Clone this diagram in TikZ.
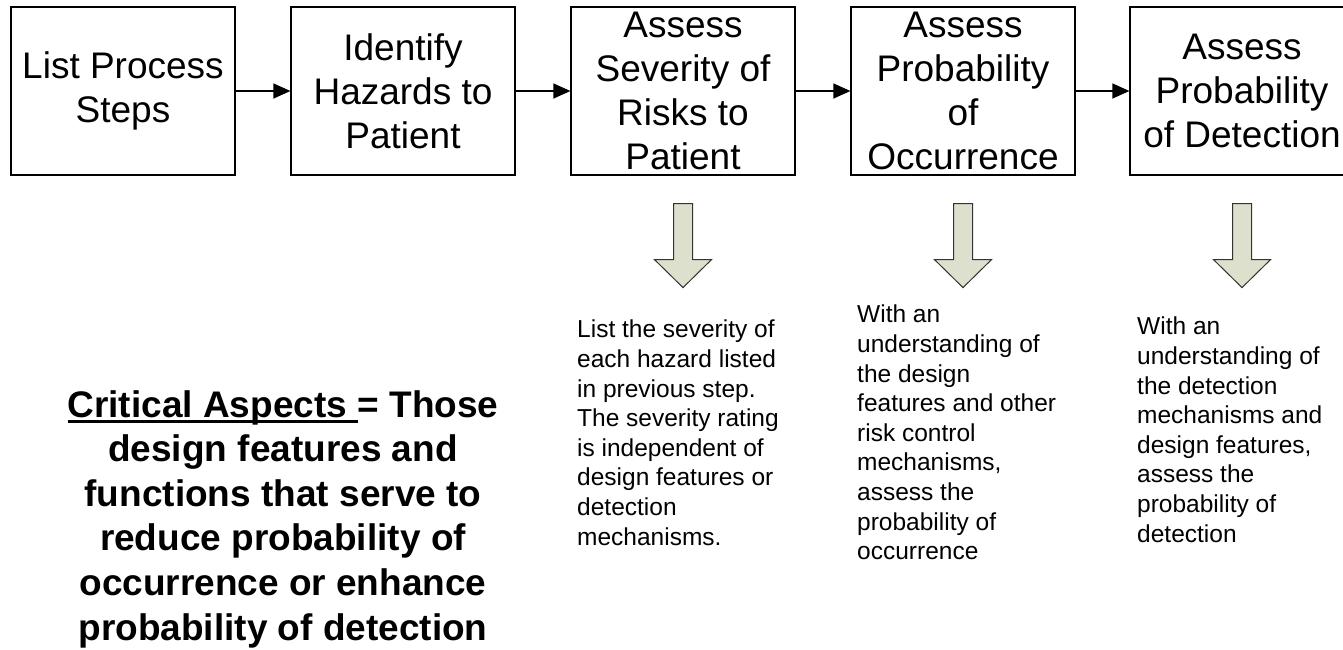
\documentclass[tikz,border=0pt]{standalone}
\usepackage{fontspec}
\setmainfont{Liberation Sans}
\usetikzlibrary{arrows.meta}

\definecolor{arrowfill}{RGB}{221,224,204}
% underline with a rule of chosen depth and thickness
\newcommand\ulword[1]{\setbox0\hbox{#1}\rlap{\rule[-5.5pt]{\wd0}{2.8pt}}\box0}

\tikzset{
  downarr/.pic={
    \draw[draw=black!80,line width=1pt,fill=arrowfill,line join=miter]
      (-9.5,0) -- (9.5,0) -- (9.5,56) -- (28.5,56) -- (0,84)
      -- (-28.5,56) -- (-9.5,56) -- cycle;
  }
}

\begin{document}
\begin{tikzpicture}[x=1pt,y=-1pt,
  stepbox/.style={draw=black,line width=1.2pt,minimum width=224pt,
    minimum height=168pt,inner sep=0pt,align=center,
    font=\fontsize{37}{44}\selectfont},
  flow/.style={line width=1.2pt,-{Triangle[length=17pt,width=15pt]}},
  note/.style={anchor=north west,inner sep=0pt,align=left,
    font=\fontsize{24.5}{29.6}\selectfont},
  summary/.style={anchor=north,inner sep=0pt,align=center,
    font=\bfseries\fontsize{37}{44.6}\selectfont}]

\useasboundingbox (0,0) rectangle (1343,650);
\clip (0,0) rectangle (1343,650);
\fill[white] (0,0) rectangle (1343,650);

% process steps
\node[stepbox] (b1) at (123,91) {List Process\\Steps};
\node[stepbox] (b2) at (403,91) {Identify\\Hazards to\\Patient};
\node[stepbox] (b3) at (683,91) {Assess\\Severity of\\Risks to\\Patient};
\node[stepbox] (b4) at (963,91) {Assess\\Probability\\of\\Occurrence};
\node[stepbox] (b5) at (1242,91) {Assess\\Probability\\of Detection};

\draw[flow] (b1) -- (b2);
\draw[flow] (b2) -- (b3);
\draw[flow] (b3) -- (b4);
\draw[flow] (b4) -- (b5);

% block arrows under the assessment steps
\pic at ([yshift=-28pt]b3.south) {downarr};
\pic at ([yshift=-28pt]b4.south) {downarr};
\pic at ([yshift=-28pt]b5.south) {downarr};

% explanations
\node[note] (n3) at (577,320) {List the severity of\\each hazard listed\\in previous step.\\The severity rating\\is independent of\\design features or\\detection\\mechanisms.};
\node[note] (n4) at (857,305) {With an\\understanding of\\the design\\features and other\\risk control\\mechanisms,\\assess the\\probability of\\occurrence};
\node[note] (n5) at (1137,317) {With an\\understanding of\\the detection\\mechanisms and\\design features,\\assess the\\probability of\\detection};

% definition
\node[summary] (def) at (283,390) {\ulword{Critical Aspects\ }= Those\\design features and\\functions that serve to\\reduce probability of\\occurrence or enhance\\probability of detection};
\end{tikzpicture}
\end{document}
